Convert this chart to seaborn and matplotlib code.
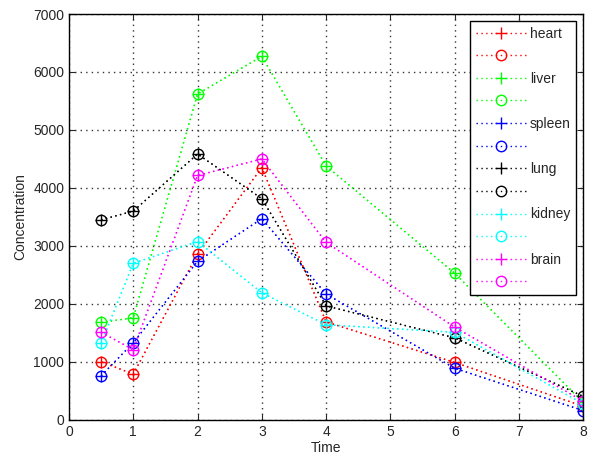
import pandas as pd
import matplotlib
matplotlib.use("Agg")
import matplotlib.pyplot as plt
import seaborn as sns
from matplotlib.lines import Line2D

# -------------------- DATA --------------------
time = [0.5, 1, 2, 3, 4, 6, 8]

heart = [1000, 790, 2860, 4350, 1690, 990, 235]
liver = [1680, 1760, 5620, 6270, 4380, 2530, 300]
spleen = [760, 1330, 2735, 3470, 2170, 890, 160]
lung = [3450, 3600, 4585, 3815, 1965, 1415, 405]
kidney = [1320, 2700, 3075, 2190, 1640, 1510, 275]
brain = [1510, 1210, 4215, 4500, 3060, 1600, 320]

organs = ["heart", "liver", "spleen", "lung", "kidney", "brain"]
colors = ["#ff0000", "#00ff00", "#0000ff", "#000000", "#00ffff", "#ff00ff"]
series = [heart, liver, spleen, lung, kidney, brain]

# -------------------- PLOT --------------------
sns.set_style("ticks")
plt.rcParams["font.family"] = ["Liberation Sans", "DejaVu Sans"]

fig = plt.figure(figsize=(6, 4.67), dpi=100)
ax = fig.add_axes([0.115, 0.101, 0.857, 0.869])

dots = (0, (1, 2.5))

handles, labels = [], []
for name, c, vals in zip(organs, colors, series):
    df = pd.DataFrame({"Time": time, "Concentration": vals})
    # plus markers
    sns.lineplot(data=df, x="Time", y="Concentration", ax=ax, color=c,
                 linestyle=dots, linewidth=1, marker="+", markersize=9,
                 markeredgecolor=c, markeredgewidth=1)
    # circle markers
    sns.lineplot(data=df, x="Time", y="Concentration", ax=ax, color=c,
                 linestyle=dots, linewidth=1, marker="o", markersize=7.5,
                 markeredgecolor=c, markerfacecolor="none", markeredgewidth=1)
    handles.append(Line2D([], [], color=c, linestyle=dots, linewidth=1,
                          marker="+", markersize=9, markeredgewidth=1))
    labels.append(name)
    handles.append(Line2D([], [], color=c, linestyle=dots, linewidth=1,
                          marker="o", markersize=7.5, markerfacecolor="none",
                          markeredgewidth=1))
    labels.append("")

ax.set_xlim(0, 8)
ax.set_ylim(0, 7000)
ax.set_xticks(range(0, 9))
ax.set_yticks(range(0, 7001, 1000))
ax.grid(True, linestyle=(0, (1, 3)), color="#333333", linewidth=1)
ax.tick_params(direction="in", top=True, right=True, labelsize=10, length=4)
for s in ax.spines.values():
    s.set_color("black")
    s.set_linewidth(1)
ax.set_xlabel("Time", fontsize=10, labelpad=2)
ax.set_ylabel("Concentration", fontsize=10, labelpad=4)

leg = ax.legend(handles, labels, loc="upper right", fontsize=10,
                handlelength=3.6, labelspacing=0.62, numpoints=1,
                fancybox=False, framealpha=1, edgecolor="black",
                borderaxespad=0.5, handletextpad=0.3)
leg.get_frame().set_linewidth(1)

fig.savefig("out.png", dpi=100)
